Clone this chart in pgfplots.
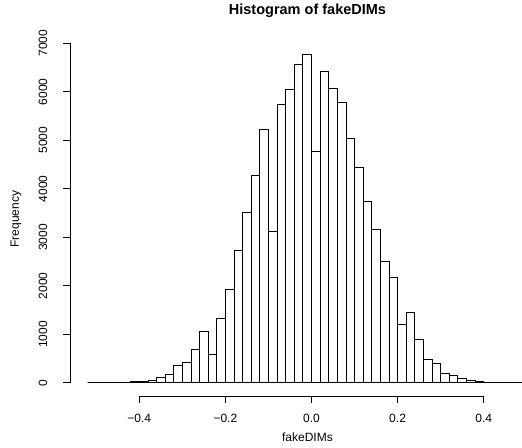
\documentclass[border=0pt]{standalone}
\usepackage{fontspec}
\setmainfont{Liberation Sans}
\usepackage{pgfplots}
\pgfplotsset{compat=1.18}

\begin{document}
\begin{tikzpicture}
\begin{axis}[
    at={(70bp,52bp)}, anchor=south west,
    width=452bp, height=354.4bp, scale only axis,
    xmin=-0.561, xmax=0.489,
    ymin=-270.6, ymax=7035,
    axis line style={draw=none},
    tick align=outside,
    major tick length=7bp,
    tick style={black, line width=0.8bp},
    xtick pos=bottom, ytick pos=left,
    xtick={-0.4,-0.2,0,0.2,0.4},
    xticklabels={−0.4,−0.2,0.0,0.2,0.4},
    ytick={0,1000,2000,3000,4000,5000,6000,7000},
    yticklabels={0,1000,2000,3000,4000,5000,6000,7000},
    ticklabel style={font=\fontsize{12bp}{14bp}\selectfont},
    xticklabel style={anchor=center},
    yticklabel style={rotate=90, anchor=center},
    xticklabel shift=15.5bp,
    yticklabel shift=20bp,
    title={\textbf{Histogram of fakeDIMs}},
    title style={at={(axis description cs:0.5254,1.07)}, anchor=center,
        font=\fontsize{14.5bp}{17bp}\selectfont},
    xlabel={fakeDIMs},
    xlabel style={at={(axis description cs:0.5254,-0.1157)}, anchor=center,
        font=\fontsize{12bp}{14bp}\selectfont},
    ylabel={Frequency},
    ylabel style={at={(axis description cs:-0.1195,0.4994)}, anchor=center,
        rotate=0, font=\fontsize{12bp}{14bp}\selectfont},
    clip mode=individual,
]
% counts per bin of width 0.02, left edges from -0.52 to 0.48 (last row closes the interval)
\addplot[ybar interval, fill=white, draw=black, line width=0.8bp] coordinates {
    (-0.52,0) (-0.50,2) (-0.48,5) (-0.46,8) (-0.44,15) (-0.42,32)
    (-0.40,35) (-0.38,61) (-0.36,123) (-0.34,171) (-0.32,350) (-0.30,425)
    (-0.28,700) (-0.26,1059) (-0.24,584) (-0.22,1321) (-0.20,1926) (-0.18,2732)
    (-0.16,3516) (-0.14,4267) (-0.12,5224) (-0.10,3131) (-0.08,5746) (-0.06,6050)
    (-0.04,6566) (-0.02,6765) (0.00,4776) (0.02,6414) (0.04,6071) (0.06,5788)
    (0.08,5044) (0.10,4439) (0.12,3737) (0.14,3159) (0.16,2511) (0.18,2181)
    (0.20,1211) (0.22,1458) (0.24,901) (0.26,488) (0.28,392) (0.30,192)
    (0.32,144) (0.34,82) (0.36,61) (0.38,27) (0.40,20) (0.42,8)
    (0.44,3) (0.46,1) (0.48,0) (0.50,0)
};
\coordinate (xa) at (axis cs:-0.4,-270.6);
\coordinate (xb) at (axis cs:0.4,-270.6);
\coordinate (ya) at (axis cs:-0.561,0);
\coordinate (yb) at (axis cs:-0.561,7000);
\end{axis}
\draw[black, line width=0.8bp] (xa) -- (xb);
\draw[black, line width=0.8bp] (ya) -- (yb);
\pgfresetboundingbox
\useasboundingbox (0,0) rectangle (522bp,448bp);
\end{tikzpicture}
\end{document}
